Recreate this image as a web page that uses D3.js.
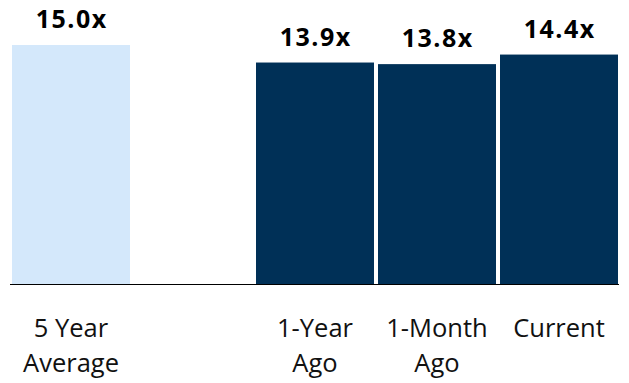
<!DOCTYPE html>
<html><head><meta charset="utf-8">
<script src="https://cdn.jsdelivr.net/npm/d3@7"></script>
<style>body{margin:0;background:#fff}svg{display:block}</style>
</head><body>
<script>
const categories = ["5 Year|Average", "", "1-Year|Ago", "1-Month|Ago", "Current"];
const values = [15.0, null, 13.9, 13.8, 14.4];
const labels = ["15.0x", "", "13.9x", "13.8x", "14.4x"];
const colors = ["#d4e8fb", null, "#003057", "#003057", "#003057"];

const W = 629, H = 383;
const svg = d3.select("body").append("svg").attr("width", W).attr("height", H);
const base = 284;
const x = d3.scaleBand().domain(d3.range(categories.length)).range([10, 620]).paddingInner(4/122).paddingOuter(2/122).align(0.5);
const y = d3.scaleLinear().domain([0, 15]).range([base, base - 239]);

const idx = d3.range(categories.length).filter(i => values[i] != null);
svg.selectAll("rect.bar").data(idx).join("rect")
  .attr("x", i => x(i)).attr("width", x.bandwidth())
  .attr("y", i => y(values[i])).attr("height", i => base - y(values[i]))
  .attr("fill", i => colors[i]);

svg.append("line").attr("x1", 10).attr("x2", 619).attr("y1", base + 0.5).attr("y2", base + 0.5)
  .attr("stroke", "#000").attr("stroke-width", 1.2);

svg.selectAll("text.val").data(idx).join("text")
  .attr("x", i => x(i) + x.bandwidth()/2 + 0.75).attr("y", i => y(values[i]) - 17)
  .attr("text-anchor", "middle").attr("font-family", "Open Sans").attr("font-weight", "bold")
  .attr("font-size", 25).attr("letter-spacing", 1.5).attr("fill", "#000").text(i => labels[i]);

const cat = svg.selectAll("text.cat").data(d3.range(categories.length)).join("text")
  .attr("text-anchor", "middle").attr("font-family", "Open Sans").attr("font-size", 25.5).attr("fill", "#111");
cat.each(function(i){
  const lines = categories[i].split("|").filter(s => s);
  const t = d3.select(this);
  lines.forEach((l, k) => t.append("tspan").attr("x", x(i) + x.bandwidth()/2).attr("y", 337 + k*35).text(l));
});
</script>
</body></html>
